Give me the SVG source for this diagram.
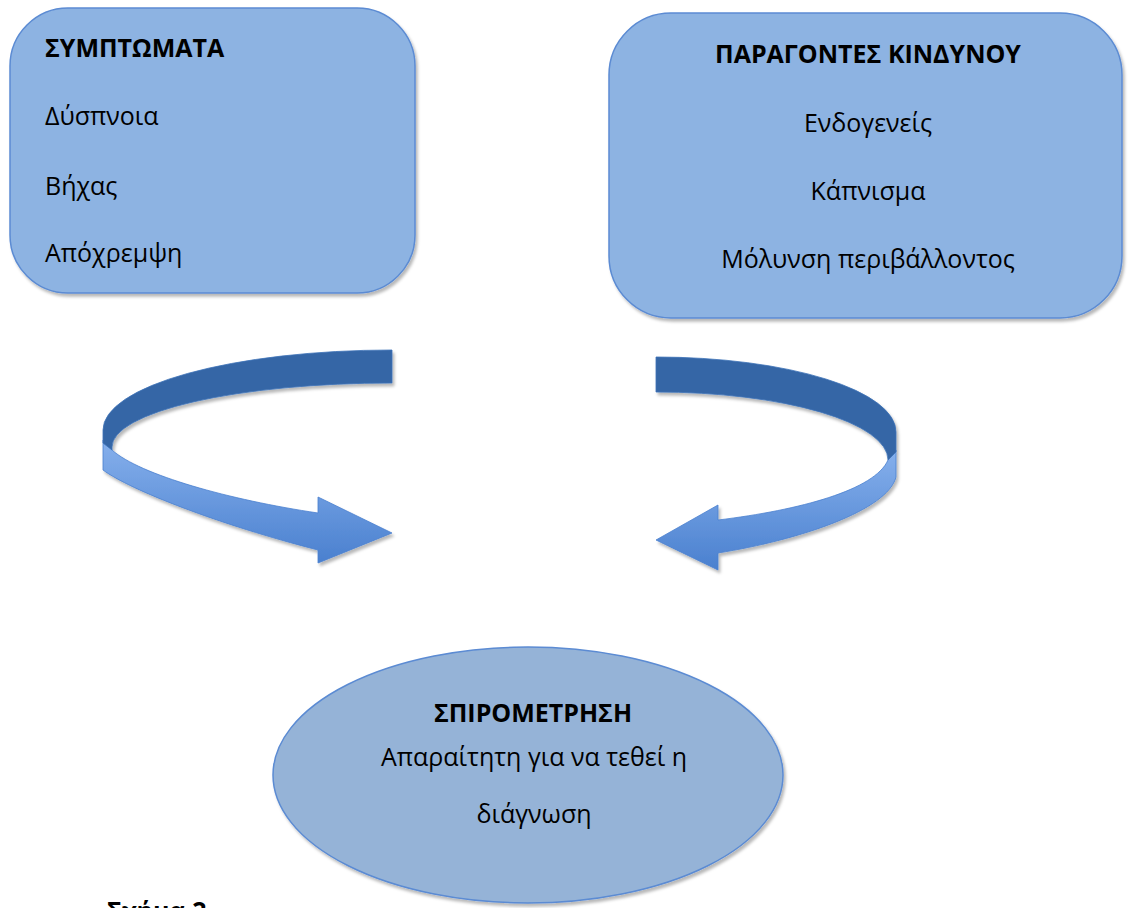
<svg xmlns="http://www.w3.org/2000/svg" width="1132" height="908" viewBox="0 0 1132 908">
  <defs>
    <filter id="sh" x="-10%" y="-10%" width="120%" height="125%">
      <feDropShadow dx="2" dy="3" stdDeviation="1.5" flood-color="#000" flood-opacity="0.28"/>
    </filter>
    <linearGradient id="light" x1="0" y1="0" x2="0" y2="1">
      <stop offset="0" stop-color="#86B0EC"/>
      <stop offset="1" stop-color="#4A80CF"/>
    </linearGradient>
  </defs>
  <style>
    .box { fill: #8DB3E2; stroke: #5B8BD3; stroke-width: 1.5; }
    .ell { fill: #95B3D7; stroke: #5B8BD3; stroke-width: 1.5; }
    .t { font-family: "Open Sans", "Noto Sans", sans-serif; font-size: 25px; fill: #000; }
    .b { font-weight: bold; }
    .dark { fill: #3566A6; stroke: #3D72B8; stroke-width: 0.8; }
    .lite { fill: url(#light); stroke: #4A80CF; stroke-width: 0.8; }
  </style>
  <rect width="1132" height="908" fill="#FFFFFF"/>

  <g id="symptoms">
    <rect class="box" x="10" y="8" width="405" height="285" rx="58" ry="58" filter="url(#sh)"/>
    <text class="t b" x="45" y="57">ΣΥΜΠΤΩΜΑΤΑ</text>
    <text class="t" x="45" y="125">Δύσπνοια</text>
    <text class="t" x="45" y="195">Βήχας</text>
    <text class="t" x="45" y="262">Απόχρεμψη</text>
  </g>

  <g id="risk-factors">
    <rect class="box" x="609" y="13" width="513" height="305" rx="62" ry="62" filter="url(#sh)"/>
    <text class="t b" x="868" y="63" text-anchor="middle">ΠΑΡΑΓΟΝΤΕΣ ΚΙΝΔΥΝΟΥ</text>
    <text class="t" x="868" y="132" text-anchor="middle">Ενδογενείς</text>
    <text class="t" x="868" y="200" text-anchor="middle">Κάπνισμα</text>
    <text class="t" x="868" y="268" text-anchor="middle">Μόλυνση περιβάλλοντος</text>
  </g>

  <g id="spirometry">
    <ellipse class="ell" cx="528" cy="775" rx="255" ry="128" filter="url(#sh)"/>
    <text class="t b" x="533" y="722" text-anchor="middle">ΣΠΙΡΟΜΕΤΡΗΣΗ</text>
    <text class="t" x="534" y="766" text-anchor="middle">Απαραίτητη για να τεθεί η</text>
    <text class="t" x="534" y="823" text-anchor="middle">διάγνωση</text>
  </g>

  <g id="connectors">
    <g id="arrow-left" filter="url(#sh)">
      <path class="lite" d="M103,440 L103,470 C130,490 220,525 318,550 L318,563 L392,533 L318,497 L318,513 C230,500 140,475 112,450 Z"/>
      <path class="dark" d="M392,350 A289,80 0 0 0 103,430 L103,443 L112,450 L112,447 A280,64 0 0 1 392,383 Z"/>
    </g>
    <g id="arrow-right" filter="url(#sh)">
      <path class="lite" d="M896,450 L896,477 C888,510 800,540 718,553 L718,570 L656,540 L718,505 L718,520 C800,510 875,490 888,460 Z"/>
      <path class="dark" d="M656,357 A240,75 0 0 1 896,432 L896,452 L888,460 A232,68 0 0 0 656,392 Z"/>
    </g>
  </g>

  <text class="t b" x="107" y="920" font-size="27">Σχήμα 2</text>
</svg>
